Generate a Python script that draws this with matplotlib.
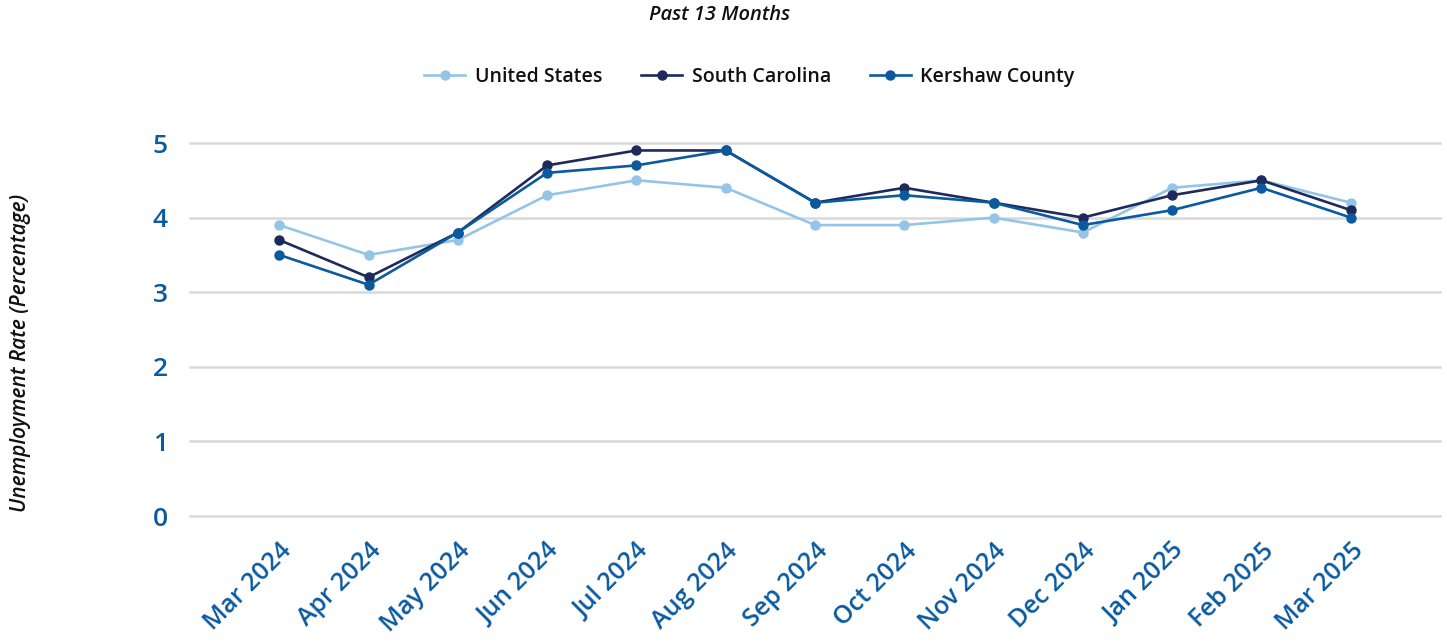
import matplotlib
matplotlib.use('Agg')
import matplotlib.pyplot as plt

plt.rcParams['font.family'] = ['Open Sans', 'DejaVu Sans']

months = ['Mar 2024', 'Apr 2024', 'May 2024', 'Jun 2024', 'Jul 2024', 'Aug 2024',
          'Sep 2024', 'Oct 2024', 'Nov 2024', 'Dec 2024', 'Jan 2025', 'Feb 2025', 'Mar 2025']
us = [3.9, 3.5, 3.7, 4.3, 4.5, 4.4, 3.9, 3.9, 4.0, 3.8, 4.4, 4.5, 4.2]
sc = [3.7, 3.2, 3.8, 4.7, 4.9, 4.9, 4.2, 4.4, 4.2, 4.0, 4.3, 4.5, 4.1]
kershaw = [3.5, 3.1, 3.8, 4.6, 4.7, 4.9, 4.2, 4.3, 4.2, 3.9, 4.1, 4.4, 4.0]

series = [('United States', us, '#95c5e6'),
          ('South Carolina', sc, '#1f2a5c'),
          ('Kershaw County', kershaw, '#0b5a9f')]
tick_color = '#0b5a9f'

fig = plt.figure(figsize=(14.47, 6.43), dpi=100)
ax = fig.add_axes([0.1313, 0.1975, 0.8639, 0.5801])

x = range(len(months))
for name, vals, col in series:
    ax.plot(x, vals, color=col, lw=1.9, marker='o', ms=6.5, label=name, clip_on=False)

ax.set_xlim(-1, 13)
ax.set_ylim(0, 5)
ax.set_yticks([0, 1, 2, 3, 4, 5])
ax.set_xticks(list(x))
ax.set_xticklabels(months, rotation=45, ha='right', rotation_mode='anchor',
                   fontsize=18, fontweight='semibold', color=tick_color)
for lbl in ax.get_yticklabels():
    lbl.set_fontsize(19)
    lbl.set_fontweight('semibold')
    lbl.set_color(tick_color)
ax.tick_params(axis='both', length=0)
ax.tick_params(axis='y', pad=16)
ax.tick_params(axis='x', pad=16)
ax.grid(axis='y', color='#d9d9d9', lw=1.8)
for gl in ax.get_ygridlines():
    gl.set_clip_on(False)
ax.set_axisbelow(True)
for s in ax.spines.values():
    s.set_visible(False)

fig.text(0.0145, 0.451, 'Unemployment Rate (Percentage)', rotation=90, ha='center', va='center',
         fontsize=15, fontstyle='italic', fontweight='semibold', color='#111111')
fig.text(0.4975, 0.976, 'Past 13 Months', ha='center', va='center',
         fontsize=14.5, fontstyle='italic', fontweight='semibold', color='#111111')

leg = fig.legend(loc='center', bbox_to_anchor=(0.518, 0.88), ncol=3, frameon=False,
                 fontsize=14, handlelength=2.1, columnspacing=2.0, handletextpad=0.5)
for t in leg.get_texts():
    t.set_fontweight('semibold')
    t.set_color('#111111')

fig.savefig('out.png', dpi=100)
